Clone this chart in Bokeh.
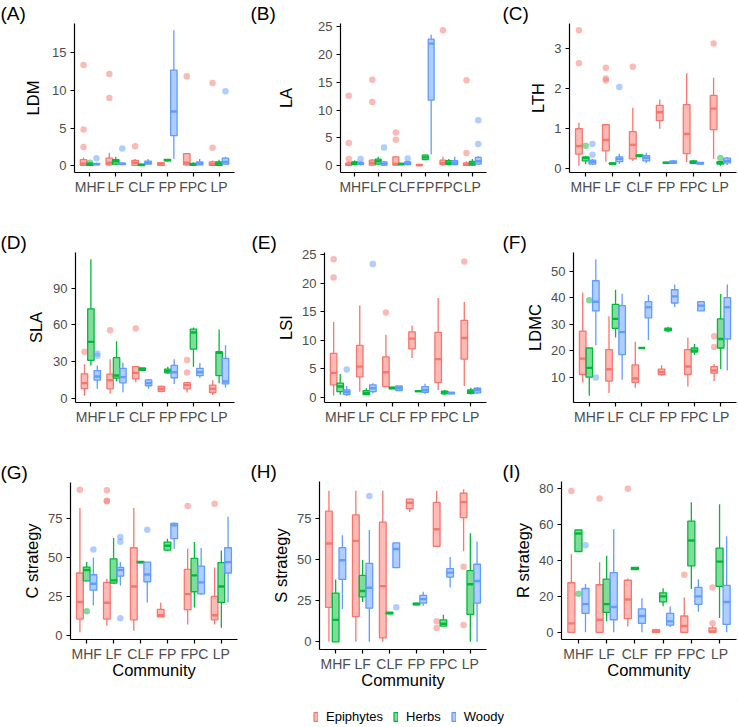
from bokeh.plotting import figure
from bokeh.models import ColumnDataSource, FactorRange, Range1d, FixedTicker, Legend, LegendItem
from bokeh.transform import dodge
from bokeh.layouts import column, row
from bokeh.embed import file_html
from bokeh.resources import INLINE

COMMUNITIES = ["MHF", "LF", "CLF", "FP", "FPC", "LP"]
GROUPS = ["Epiphytes", "Herbs", "Woody"]
COLORS = ["#F8766D", "#00BA38", "#619CFF"]

# Box statistics per community (MHF, LF, CLF, FP, FPC, LP):
# (lower whisker, Q1, median, Q3, upper whisker)
LDM_EPIPHYTES = [(0, 0.05, 0.3, 0.8, 1.1), (0, 0.1, 0.4, 1.0, 1.7), (0, 0.05, 0.4, 0.7, 0.9),
                 (0, 0.05, 0.2, 0.4, 0.5), (0, 0.1, 0.4, 1.6, 1.6), (0, 0.05, 0.2, 0.5, 0.7)]
LDM_HERBS = [(0, 0.05, 0.15, 0.35, 0.5), (0.1, 0.2, 0.6, 0.8, 1.2), (0, 0.05, 0.1, 0.2, 0.25),
             (0.6, 0.65, 0.75, 0.85, 0.9), (0, 0.05, 0.15, 0.3, 0.45), (0, 0.05, 0.3, 0.5, 0.8)]
LDM_WOODY = [(0.1, 0.15, 0.2, 0.3, 0.4), (0.1, 0.15, 0.25, 0.35, 0.5), (0.1, 0.2, 0.4, 0.6, 0.9),
             (0.9, 4.0, 7.2, 12.7, 18.0), (0.05, 0.1, 0.3, 0.5, 0.9), (0.1, 0.2, 0.5, 1.0, 1.2)]
LDM_OUT_EPIPHYTES = [("MHF", 13.4), ("MHF", 4.8), ("MHF", 2.5), ("LF", 12.2), ("LF", 9.0),
                     ("CLF", 2.6), ("FPC", 11.9), ("LP", 11.0), ("LP", 2.4)]
LDM_OUT_HERBS = [("MHF", 0.4)]
LDM_OUT_WOODY = [("MHF", 1.0), ("LF", 2.3), ("LP", 9.9)]

LA_EPIPHYTES = [(0, 0.05, 0.2, 0.5, 0.8), (0, 0.1, 0.5, 1.0, 1.2), (0, 0.1, 0.3, 1.6, 1.7),
                (0, 0.02, 0.1, 0.25, 0.35), (0, 0.2, 0.5, 1.0, 1.6), (0, 0.05, 0.2, 0.5, 0.8)]
LA_HERBS = [(0.1, 0.2, 0.5, 0.7, 1.0), (0.2, 0.3, 0.8, 1.2, 1.6), (0.1, 0.2, 0.3, 0.4, 0.5),
            (1.0, 1.1, 1.5, 1.9, 2.0), (0.1, 0.2, 0.5, 0.9, 1.2), (0, 0.1, 0.4, 0.8, 1.2)]
LA_WOODY = [(0.1, 0.2, 0.4, 0.6, 0.8), (0.05, 0.1, 0.3, 0.7, 0.9), (0.1, 0.2, 0.5, 0.7, 0.9),
            (2.0, 11.8, 22.0, 22.8, 23.6), (0.1, 0.2, 0.5, 0.9, 1.6), (0.2, 0.3, 0.8, 1.5, 1.7)]
LA_OUT_EPIPHYTES = [("MHF", 12.6), ("MHF", 4.1), ("MHF", 1.2), ("LF", 15.5), ("LF", 11.5),
                    ("CLF", 6.0), ("CLF", 4.7), ("FPC", 24.4), ("LP", 15.4), ("LP", 2.3)]
LA_OUT_HERBS = []
LA_OUT_WOODY = [("MHF", 1.2), ("LF", 3.3), ("CLF", 1.3), ("LP", 8.2), ("LP", 3.9)]

LTH_EPIPHYTES = [(0.08, 0.37, 0.57, 1.0, 1.15), (0.18, 0.45, 0.72, 1.1, 1.12), (0.2, 0.25, 0.6, 0.93, 1.52),
                 (1.0, 1.2, 1.41, 1.58, 1.73), (0.17, 0.38, 0.87, 1.6, 2.38), (0.25, 0.98, 1.5, 1.83, 2.27)]
LTH_HERBS = [(0.12, 0.2, 0.27, 0.3, 0.33), (0.11, 0.12, 0.13, 0.15, 0.16), (0.3, 0.31, 0.33, 0.35, 0.36),
             (0.13, 0.14, 0.15, 0.17, 0.18), (0.13, 0.14, 0.17, 0.2, 0.22), (0.08, 0.12, 0.15, 0.18, 0.2)]
LTH_WOODY = [(0.1, 0.12, 0.18, 0.22, 0.25), (0.12, 0.18, 0.25, 0.3, 0.38), (0.15, 0.2, 0.28, 0.33, 0.4),
             (0.13, 0.14, 0.17, 0.2, 0.22), (0.12, 0.12, 0.14, 0.16, 0.16), (0.1, 0.15, 0.2, 0.27, 0.3)]
LTH_OUT_EPIPHYTES = [("MHF", 3.45), ("MHF", 2.63), ("LF", 2.52), ("LF", 2.25), ("LF", 2.2),
                     ("CLF", 2.54), ("LP", 3.12)]
LTH_OUT_HERBS = [("MHF", 0.58), ("LP", 0.27)]
LTH_OUT_WOODY = [("MHF", 0.62), ("MHF", 0.35), ("LF", 2.04)]

SLA_EPIPHYTES = [(2.4, 8.1, 12.6, 20.2, 28), (4, 8, 15, 20, 32), (13.4, 16, 21, 26, 26.5),
                 (5, 6, 8, 10, 10.5), (5, 8, 11, 13, 13.5), (3, 5, 8, 11, 15)]
SLA_HERBS = [(26.9, 31.2, 46.2, 73.1, 113.4), (14, 16.7, 18.8, 33.3, 46.8), (23, 23, 24, 25, 25),
             (20, 21, 22.5, 24, 26), (26, 40.3, 53.8, 56.5, 58), (12.6, 18.8, 37.4, 38.2, 56.2)]
SLA_WOODY = [(8, 15.1, 18, 22.8, 26.9), (5.1, 12.9, 17.5, 24.7, 29.3), (8, 10.5, 12.6, 15.3, 16),
             (12, 17, 21.5, 27, 32), (17, 18.8, 21.5, 24.7, 29), (9, 12, 14, 32.8, 43.5)]
SLA_OUT_EPIPHYTES = [("MHF", 38.2), ("LF", 55.6), ("CLF", 57), ("FPC", 31.5), ("FPC", 21.2)]
SLA_OUT_HERBS = []
SLA_OUT_WOODY = [("MHF", 36.8), ("MHF", 35)]

LSI_EPIPHYTES = [(0.3, 2.2, 4.3, 7.7, 13.2), (1.0, 3.6, 5.4, 9.1, 16.1), (1.9, 1.9, 4.4, 7.1, 11),
                 (6.9, 8.5, 10.3, 11.5, 12.6), (1.3, 2.6, 6.7, 11.4, 17.4), (2, 6.7, 10.4, 13.5, 16.7)]
LSI_HERBS = [(0.5, 1.0, 1.9, 2.5, 4.1), (0.4, 0.5, 0.8, 1.2, 1.6), (1.5, 1.5, 1.65, 1.8, 1.8),
             (1.0, 1.0, 1.1, 1.2, 1.2), (0.4, 0.6, 0.9, 1.1, 1.3), (0.5, 0.7, 1.0, 1.3, 1.7)]
LSI_WOODY = [(0.3, 0.5, 0.9, 1.3, 2.0), (0.7, 1.0, 1.6, 2.2, 2.5), (1.2, 1.2, 1.6, 2.0, 2.0),
             (0.6, 0.9, 1.3, 1.9, 2.4), (0.6, 0.6, 0.75, 0.9, 0.9), (0.6, 0.8, 1.3, 1.6, 1.8)]
LSI_OUT_EPIPHYTES = [("MHF", 24.2), ("MHF", 21), ("CLF", 14.9), ("LP", 23.8)]
LSI_OUT_HERBS = []
LSI_OUT_WOODY = [("MHF", 4.9), ("LF", 23.4)]

LDMC_EPIPHYTES = [(8, 11, 17, 27.4, 42), (4, 8.5, 13, 20.4, 33), (6, 8, 9.5, 14.6, 23.4),
                  (10.5, 11, 12, 13, 14.5), (6.5, 11, 14, 20.4, 25), (8.5, 11.5, 12.5, 14, 15)]
LDMC_HERBS = [(3, 10, 13.5, 21, 21), (25, 28.4, 32, 37.5, 43), (21, 21, 21, 21, 21),
              (27, 27.5, 28, 28.5, 29), (18.5, 19.5, 20, 21, 22.5), (13, 21, 24.4, 32, 41.4)]
LDMC_WOODY = [(22, 35, 38.5, 46.4, 54.5), (9, 18.5, 27, 37, 41.5), (24, 32.4, 36.4, 38.5, 41),
              (36.5, 38, 40.5, 43, 45), (35, 35, 37, 38.5, 38.5), (12.5, 24.4, 36.4, 40, 45)]
LDMC_OUT_EPIPHYTES = [("LP", 25.4), ("LP", 21.4)]
LDMC_OUT_HERBS = [("MHF", 39)]
LDMC_OUT_WOODY = [("MHF", 9.9)]

C_EPIPHYTES = [(2, 10.5, 21.4, 40, 81.6), (6.2, 10.5, 21, 34, 36.3), (3, 10, 31.4, 56.2, 81.6),
               (12, 12, 13, 16.7, 21), (7, 16.5, 26.5, 42.3, 55.6), (7, 10, 13, 25, 43.6)]
C_HERBS = [(35, 35, 41.9, 43.8, 47), (33, 33.5, 35.3, 49.1, 62.4), (46.5, 46.5, 47, 47.5, 47.5),
           (54, 54.7, 57.5, 59.8, 62), (18, 28, 38.5, 49.4, 59.8), (4.9, 21.2, 31.4, 46.6, 54.5)]
C_WOODY = [(19.2, 29, 33.1, 38.9, 50), (32, 38, 41.9, 43.6, 47), (21.2, 34.4, 39.1, 47, 47),
           (55.6, 62, 70.5, 71.8, 72.4), (26, 26.7, 34, 44.4, 56), (21.2, 40, 47, 56.2, 76)]
C_OUT_EPIPHYTES = [("MHF", 93.4), ("LF", 93), ("LF", 86), ("LF", 86.3), ("FPC", 82.9), ("LP", 84.4)]
C_OUT_HERBS = [("MHF", 15.6)]
C_OUT_WOODY = [("MHF", 55), ("LF", 63), ("LF", 60), ("LF", 11), ("CLF", 67.7)]

S_EPIPHYTES = [(0, 21, 59.8, 79.5, 91.9), (0, 15.4, 61.4, 77.2, 91.9), (0, 2.4, 33.9, 72.8, 91.9),
               (79, 81.1, 84.6, 86.8, 87), (58.1, 58.1, 68.5, 84.8, 91.9), (55.1, 75.6, 85, 90.4, 92.9)]
S_HERBS = [(0, 0, 13.4, 29.7, 38), (24.2, 27.4, 30.9, 40.4, 49.8), (17, 17, 17.5, 18, 18),
           (22.5, 22.5, 23, 23.5, 23.5), (9.6, 9.6, 11, 13.4, 16.5), (0, 16.7, 35, 43.3, 66)]
S_WOODY = [(20, 38, 49.6, 57.3, 64.8), (0, 20.5, 32.9, 47.8, 68), (45.1, 45.1, 56.5, 60.2, 60.2),
           (22, 23.6, 26, 28.3, 30.5), (33, 39.4, 42.1, 44.5, 51.6), (0, 23.6, 37, 47.2, 61)]
S_OUT_EPIPHYTES = [("FPC", 12.6), ("FPC", 8.5), ("LP", 45.7), ("LP", 10.2)]
S_OUT_HERBS = []
S_OUT_WOODY = [("LF", 88.8), ("CLF", 21.1)]

R_EPIPHYTES = [(0, 0, 5, 27.6, 43.5), (0, 0, 7, 26.5, 39), (3.3, 7.6, 18.3, 29, 30),
               (0, 0, 0.5, 1.5, 2), (0, 0, 3.5, 9.1, 19.4), (0, 0, 0.5, 2.5, 3.5)]
R_HERBS = [(45, 45, 55, 57, 57), (6.1, 11.1, 15.7, 29.6, 42.6), (35, 35, 35.6, 36.2, 36.2),
           (14.5, 17, 20, 22, 24.5), (24.1, 37, 51.1, 61.9, 72.4), (8, 25.6, 39.4, 46.9, 71.3)]
R_WOODY = [(0, 10.6, 15.7, 24.4, 26.9), (0, 7, 14.1, 33.3, 57.4), (0, 5, 9.1, 13.1, 19),
           (3, 4, 6.1, 10.6, 14.4), (11.5, 15.6, 20, 25, 29.5), (0, 4.4, 16.9, 26.1, 53.5)]
R_OUT_EPIPHYTES = [("MHF", 78.7), ("LF", 74.6), ("CLF", 80), ("FPC", 32), ("LP", 25), ("LP", 5)]
R_OUT_HERBS = [("MHF", 21.5)]
R_OUT_WOODY = [("MHF", 48.5)]

TAGS = ["(A)", "(B)", "(C)", "(D)", "(E)", "(F)", "(G)", "(H)", "(I)"]
YLABELS = ["LDM", "LA", "LTH", "SLA", "LSI", "LDMC", "C strategy", "S strategy", "R strategy"]
YTICKS = [[0, 5, 10, 15], [0, 5, 10, 15, 20, 25], [0, 1, 2, 3], [0, 30, 60, 90],
          [0, 5, 10, 15, 20, 25], [10, 20, 30, 40, 50], [0, 25, 50, 75], [0, 25, 50, 75],
          [0, 20, 40, 60, 80]]

PANEL_STATS = [
    (LDM_EPIPHYTES, LDM_HERBS, LDM_WOODY), (LA_EPIPHYTES, LA_HERBS, LA_WOODY),
    (LTH_EPIPHYTES, LTH_HERBS, LTH_WOODY), (SLA_EPIPHYTES, SLA_HERBS, SLA_WOODY),
    (LSI_EPIPHYTES, LSI_HERBS, LSI_WOODY), (LDMC_EPIPHYTES, LDMC_HERBS, LDMC_WOODY),
    (C_EPIPHYTES, C_HERBS, C_WOODY), (S_EPIPHYTES, S_HERBS, S_WOODY), (R_EPIPHYTES, R_HERBS, R_WOODY)]
PANEL_OUT = [
    (LDM_OUT_EPIPHYTES, LDM_OUT_HERBS, LDM_OUT_WOODY), (LA_OUT_EPIPHYTES, LA_OUT_HERBS, LA_OUT_WOODY),
    (LTH_OUT_EPIPHYTES, LTH_OUT_HERBS, LTH_OUT_WOODY), (SLA_OUT_EPIPHYTES, SLA_OUT_HERBS, SLA_OUT_WOODY),
    (LSI_OUT_EPIPHYTES, LSI_OUT_HERBS, LSI_OUT_WOODY), (LDMC_OUT_EPIPHYTES, LDMC_OUT_HERBS, LDMC_OUT_WOODY),
    (C_OUT_EPIPHYTES, C_OUT_HERBS, C_OUT_WOODY), (S_OUT_EPIPHYTES, S_OUT_HERBS, S_OUT_WOODY),
    (R_OUT_EPIPHYTES, R_OUT_HERBS, R_OUT_WOODY)]

# layout: (fig height, border left, right, top, bottom, y-title standoff, tag x)
LAYOUT = [
    (220, 74, 12, 20, 48, 7, 0), (220, 94, 6, 21, 48, 20, 4), (220, 77, 2, 20, 48, 4, 10),
    (220, 75, 12, 32, 37, 5, 0), (220, 78, 6, 32, 38, 4, 5), (220, 81, 2, 32, 37, 4, 10),
    (258, 70, 9, 42, 59, 4, 0), (258, 73, 6, 41, 49, 4, 4), (258, 69, 2, 41, 59, 4, 10)]

FONT = "Liberation Sans"
OFFSETS = [-0.25, 0.0, 0.25]
BOXW = 0.25


def make_panel(i):
    h, bl, br, bt, bb, stand, tx = LAYOUT[i]
    stats, outs = PANEL_STATS[i], PANEL_OUT[i]
    vals = [v for g in stats for s in g for v in s] + [v for g in outs for _, v in g]
    lo, hi = min(vals), max(vals)
    pad = 0.05 * (hi - lo)
    p = figure(width=246, height=h, output_backend="svg", toolbar_location=None,
               x_range=FactorRange(factors=COMMUNITIES, range_padding=0.1, range_padding_units="absolute"),
               y_range=Range1d(lo - pad, hi + pad),
               min_border_left=bl, min_border_right=br, min_border_top=bt, min_border_bottom=bb)
    p.outline_line_color = None
    p.grid.visible = False
    p.background_fill_color = "white"
    xr = p.x_range
    for g in range(3):
        col = COLORS[g]
        off = OFFSETS[g]
        st = stats[g]
        src = ColumnDataSource(dict(c=COMMUNITIES, lo=[s[0] for s in st], q1=[s[1] for s in st],
                                    med=[s[2] for s in st], q3=[s[3] for s in st], hi=[s[4] for s in st]))
        xc = dodge("c", off, range=xr)
        p.segment(x0=xc, y0="lo", x1=xc, y1="q1", source=src, line_color=col, line_width=1.3)
        p.segment(x0=xc, y0="q3", x1=xc, y1="hi", source=src, line_color=col, line_width=1.3)
        p.vbar(x=xc, width=BOXW, bottom="q1", top="q3", source=src, fill_color=col, fill_alpha=0.5,
               line_color=col, line_width=1.3)
        p.segment(x0=dodge("c", off - BOXW / 2, range=xr), y0="med",
                  x1=dodge("c", off + BOXW / 2, range=xr), y1="med", source=src,
                  line_color=col, line_width=2.4)
        if outs[g]:
            osrc = ColumnDataSource(dict(c=[o[0] for o in outs[g]], v=[o[1] for o in outs[g]]))
            p.scatter(x=dodge("c", off, range=xr), y="v", source=osrc, size=6.5, fill_color=col,
                      fill_alpha=0.5, line_color=None)
    for ax in (p.xaxis[0], p.yaxis[0]):
        ax.axis_line_color = "black"
        ax.axis_line_width = 1.2
        ax.major_tick_line_color = "black"
        ax.major_tick_line_width = 1.2
        ax.major_tick_in = 0
        ax.major_tick_out = 4
        ax.minor_tick_line_color = None
        ax.major_label_text_color = "#4D4D4D"
        ax.major_label_text_font = FONT
        ax.axis_label_text_font = FONT
        ax.axis_label_text_font_style = "normal"
        ax.axis_label_text_color = "black"
        ax.axis_label_text_font_size = "16.5px"
    p.xaxis.major_label_text_font_size = "14px"
    p.xaxis.major_label_standoff = 2
    p.yaxis.major_label_text_font_size = "13px"
    p.yaxis.major_label_standoff = 4
    p.yaxis.ticker = FixedTicker(ticks=YTICKS[i])
    p.yaxis.axis_label = YLABELS[i]
    p.yaxis.axis_label_standoff = stand
    if i >= 6:
        p.xaxis.axis_label = "Community"
        p.xaxis.axis_label_standoff = -4
    p.title.text = TAGS[i]
    p.title.align = "left"
    p.title.offset = tx - bl
    p.title.standoff = 0
    p.title.text_font = FONT
    p.title.text_font_size = "19px"
    p.title.text_font_style = "normal"
    p.title.text_color = "black"
    return p


panels = [make_panel(i) for i in range(9)]

lf = figure(width=738, height=29, output_backend="svg", toolbar_location=None,
            x_range=Range1d(0, 1), y_range=Range1d(0, 1), x_axis_location=None, y_axis_location=None,
            min_border=0, min_border_left=0, min_border_right=0, min_border_top=0, min_border_bottom=0)
lf.outline_line_color = None
lf.grid.visible = False
items = []
for g in range(3):
    r = lf.vbar(x=[5], top=[6], bottom=[5], width=0.01, fill_color=COLORS[g], fill_alpha=0.5,
                line_color=COLORS[g], line_width=1.2)
    items.append(LegendItem(label=GROUPS[g], renderers=[r]))
leg = Legend(items=items, orientation="horizontal", location=(313, 3), glyph_width=5, glyph_height=11,
             label_standoff=8, spacing=10, padding=0, margin=0, border_line_color=None,
             background_fill_alpha=0, label_text_font=FONT, label_text_font_size="13px",
             label_text_color="black")
lf.add_layout(leg)

bottom_row = row(column(panels[6]), column(panels[7]), column(panels[8]))
layout = column(row(*panels[0:3]), row(*panels[3:6]), bottom_row, lf)
open("out.html", "w").write(file_html(layout, INLINE))
